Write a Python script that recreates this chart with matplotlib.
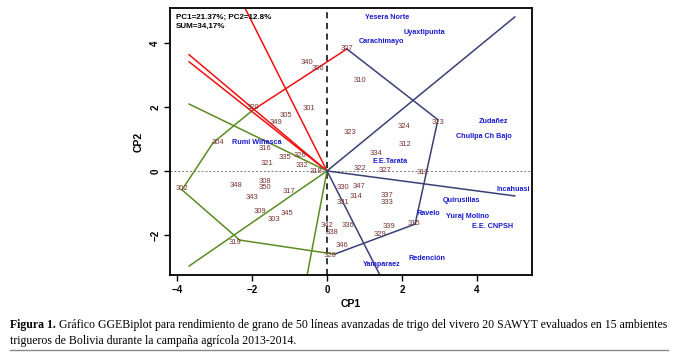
import matplotlib
matplotlib.use("Agg")
import matplotlib.pyplot as plt

# genotipos: etiqueta, CP1, CP2
gen_labels = ["301", "302", "303", "304", "305", "306", "307", "308", "309", "310",
              "311", "312", "313", "314", "315", "316", "317", "318", "319", "320",
              "321", "322", "323", "324", "326", "327", "328", "329", "330", "331",
              "332", "333", "334", "335", "336", "337", "338", "339", "340", "343",
              "345", "346", "347", "348", "349", "350", "342"]
gen_x = [-0.48, -3.87, -1.42, -2.91, -1.10, -0.24, 0.53, -1.65, -1.78, 0.88,
         2.56, 2.08, 2.96, 0.77, 2.32, -1.65, -1.01, -0.29, -2.45, -1.97,
         -1.60, 0.88, 0.61, 2.05, -0.72, 1.55, 0.08, 1.41, 0.43, 0.43,
         -0.67, 1.60, 1.31, -1.12, 0.56, 1.60, 0.13, 1.65, -0.53, -2.00,
         -1.08, 0.40, 0.85, -2.43, -1.35, -1.65, 0.00]
gen_y = [1.94, -0.56, -1.52, 0.88, 1.74, 3.19, 3.81, -0.34, -1.26, 2.84,
         -0.06, 0.84, 1.50, -0.81, -1.63, 0.69, -0.63, -0.03, -2.22, 1.97,
         0.22, 0.09, 1.19, 1.38, 0.47, 0.00, -2.63, -2.00, -0.53, -1.00,
         0.16, -1.00, 0.56, 0.41, -1.69, -0.78, -1.91, -1.72, 3.38, -0.84,
         -1.34, -2.34, -0.50, -0.44, 1.50, -0.53, -1.69]

# ambientes
env_labels = ["Yesera Norte", "Uyaxtipunta", "Carachimayo", "Zudañez", "Chullpa Ch Bajo",
              "E.E.Tarata", "Incahuasi", "Quirusillas", "Ravelo", "Yuraj Molino",
              "E.E. CNPSH", "Redención", "Yamparaez", "Rumi Wiñasca"]
env_x = [1.60, 2.61, 1.44, 4.45, 4.19, 1.68, 4.96, 3.60, 2.69, 3.76, 4.43, 2.67, 1.47, -1.87]
env_y = [4.78, 4.31, 4.03, 1.56, 1.09, 0.31, -0.59, -0.91, -1.34, -1.41, -1.75, -2.75, -2.91, 0.88]

# poligono (vertices) y color de cada lado
poly_x = [0.53, 2.96, 2.35, 0.20, -2.33, -3.87, -3.04, -1.97, 0.53]
poly_y = [3.81, 1.60, -1.66, -2.60, -2.16, -0.59, 0.88, 1.91, 3.81]
poly_col = ["navy", "navy", "navy", "green", "green", "green", "green", "red"]

# rayos desde el origen
ray_x = [-2.19, -3.68, -3.68, -3.68, -3.68, -0.53, 1.41, 5.01, 5.01]
ray_y = [5.09, 3.63, 3.41, 2.09, -2.97, -3.25, -3.25, -0.78, 4.81]
ray_col = ["red", "red", "red", "green", "green", "green", "navy", "navy", "navy"]

colores = {"red": "#f01010", "green": "#5b8c22", "navy": "#3a4076"}

plt.rcParams['font.family'] = ['Liberation Sans', 'DejaVu Sans']

fig = plt.figure(figsize=(6.78, 3.55), dpi=100)
ax = fig.add_axes([170 / 678, 1 - 275 / 355, 362 / 678, 267 / 355])
ax.set_xlim(-4.19, 5.47)
ax.set_ylim(-3.25, 5.09)

ax.axvline(0, color="black", lw=1.1, ls=(0, (4, 3)), zorder=1)
ax.axhline(0, color="#777777", lw=0.7, ls=(0, (2, 2)), zorder=1)

for i in range(len(poly_col)):
    ax.plot(poly_x[i:i + 2], poly_y[i:i + 2], color=colores[poly_col[i]], lw=1.1, zorder=2)

for xe, ye, c in zip(ray_x, ray_y, ray_col):
    ax.plot([0, xe], [0, ye], color=colores[c], lw=1.1, zorder=2, clip_on=True)

for t, x, y in zip(gen_labels, gen_x, gen_y):
    ax.text(x, y, t, color="#7a3535", fontsize=5.5, ha="center", va="center", zorder=3)

for t, x, y in zip(env_labels, env_x, env_y):
    ax.text(x, y, t, color="#1a1ad0", fontsize=5.2, fontweight="bold",
            ha="center", va="center", zorder=3)

ax.text(-4.03, 4.8, "PC1=21.37%; PC2=12.8%", fontsize=5.8, fontweight="bold", va="center")
ax.text(-4.03, 4.52, "SUM=34,17%", fontsize=5.8, fontweight="bold", va="center")

ax.set_xticks([-4, -2, 0, 2, 4])
ax.set_yticks([-2, 0, 2, 4])
ax.tick_params(length=4, width=1, labelsize=7, direction="out", pad=3)
for lab in ax.get_xticklabels():
    lab.set_fontweight("bold")
for lab in ax.get_yticklabels():
    lab.set_fontweight("bold")
    lab.set_rotation(90)
    lab.set_va("center")
for s in ax.spines.values():
    s.set_linewidth(1.3)
ax.set_xlabel("CP1", fontsize=7.5, fontweight="bold", labelpad=3)
ax.set_ylabel("CP2", fontsize=7.5, fontweight="bold", labelpad=5)

# pie de figura
serif = ['Liberation Serif', 'DejaVu Serif']
t1 = fig.text(10 / 678, 1 - 331 / 355, "Figura 1.", fontsize=8.5, fontweight="bold",
              family=serif, va="bottom")
ax.annotate("Gráfico GGEBiplot para rendimiento de grano de 50 líneas avanzadas de trigo del "
            "vivero 20 SAWYT evaluados en 15 ambientes",
            xy=(1, 0), xycoords=t1, xytext=(2, 0), textcoords="offset points",
            fontsize=8.5, family=serif, va="bottom", ha="left", annotation_clip=False)
fig.text(10 / 678, 1 - 347 / 355, "trigueros de Bolivia durante la campaña agrícola 2013-2014.",
         fontsize=8.5, family=serif, va="bottom")
fig.add_artist(plt.Line2D([10 / 678, 668 / 678], [1 - 350 / 355, 1 - 350 / 355],
                          color="#888888", lw=1.0))

fig.savefig("out.png", dpi=100)
